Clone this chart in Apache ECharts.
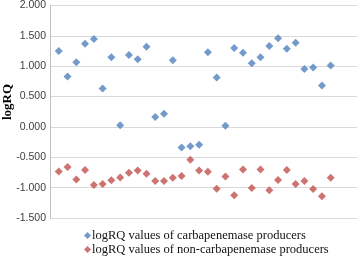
<!DOCTYPE html>
<html><head><meta charset="utf-8">
<script src="https://cdn.jsdelivr.net/npm/echarts@6/dist/echarts.min.js"></script>
<style>html,body{margin:0;padding:0;background:#fff}#c{width:359px;height:258px}</style>
</head><body><div id="c"></div>
<script>
const xIndex = [1,2,3,4,5,6,7,8,9,10,11,12,13,14,15,16,17,18,19,20,21,22,23,24,25,26,27,28,29,30,31,32];
const carbapenemase = [1.25,0.83,1.065,1.37,1.447,0.633,1.147,0.026,1.185,1.115,1.32,0.164,0.218,1.098,-0.339,-0.317,-0.295,1.23,0.813,0.021,1.30,1.223,1.049,1.147,1.333,1.459,1.289,1.387,0.956,0.977,0.682,1.01];
const nonCarbapenemase = [-0.733,-0.662,-0.864,-0.711,-0.957,-0.941,-0.880,-0.831,-0.754,-0.716,-0.771,-0.891,-0.891,-0.836,-0.809,-0.54,-0.716,-0.738,-1.017,-0.815,-1.126,-0.700,-1.006,-0.700,-1.044,-0.875,-0.711,-0.941,-0.891,-1.023,-1.143,-0.836];
const seriesNames = ['logRQ values of carbapenemase producers','logRQ values of non-carbapenemase producers'];
const yTicks = {min:-1.5, max:2, step:0.5};

const legendCommon = {left:79,itemWidth:7,itemHeight:7,icon:'diamond',itemGap:0,
  textStyle:{fontFamily:'Liberation Serif',fontSize:12.5,color:'#111',padding:[0,0,0,-4]}};
const chart = echarts.init(document.getElementById('c'));
chart.setOption({
  animation:false,
  grid:{left:50,right:2,top:5,bottom:40},
  xAxis:{type:'value',min:0,max:35,show:false},
  yAxis:{type:'value',min:yTicks.min,max:yTicks.max,interval:yTicks.step,
    axisLine:{show:true,lineStyle:{color:'#bfbfbf'}},
    axisTick:{show:false},
    splitLine:{lineStyle:{color:'#d9d9d9'}},
    axisLabel:{formatter:v=>v.toFixed(3),color:'#404040',fontFamily:'Liberation Sans',fontSize:10.5,margin:4}
  },
  legend:[
    Object.assign({top:224,data:[seriesNames[0]]},legendCommon),
    Object.assign({top:238,data:[seriesNames[1]]},legendCommon)
  ],
  graphic:[{type:'text',left:1,top:84,rotation:Math.PI/2,
    style:{text:'logRQ',font:'bold 13px "Liberation Serif"',fill:'#000'}}],
  series:[
    {name:seriesNames[0],type:'scatter',symbol:'diamond',symbolSize:8,itemStyle:{color:'#4F81BD'},
     data:xIndex.map((x,i)=>[x,carbapenemase[i]])},
    {name:seriesNames[1],type:'scatter',symbol:'diamond',symbolSize:8,itemStyle:{color:'#C0504D'},
     data:xIndex.map((x,i)=>[x,nonCarbapenemase[i]])}
  ]
});
</script></body></html>
